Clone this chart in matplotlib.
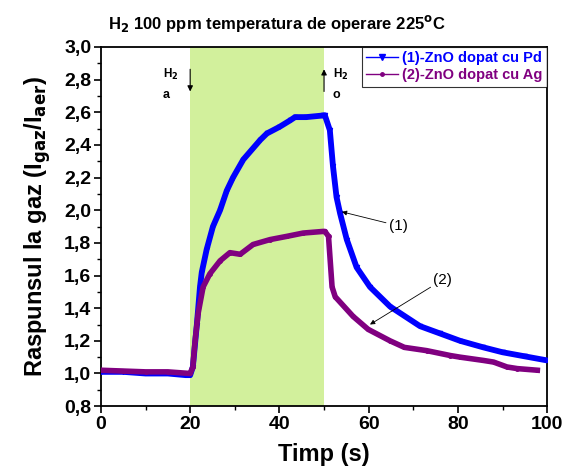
import matplotlib
matplotlib.use("Agg")
from matplotlib import pyplot as plt
from matplotlib.lines import Line2D
from matplotlib.ticker import MultipleLocator, FuncFormatter

plt.rcParams['font.family'] = ['Liberation Sans', 'DejaVu Sans']
plt.rcParams['font.weight'] = 'bold'

# (1) ZnO dopat cu Pd
t_pd = [0, 5, 10, 15, 19, 20, 20.6, 21.5, 22.2, 22.6, 23.7, 25.1, 26.7, 28.2, 29.6,
        31.9, 35.7, 37.2, 40, 42.4, 43.5, 46, 49.8, 50.2, 51.3, 52, 52.8, 53.6,
        55.1, 57.3, 60.3, 64.8, 71.5, 76, 80.5, 85.7, 90, 95, 100]
v_pd = [1.01, 1.01, 1.0, 1.0, 0.99, 0.99, 1.04, 1.30, 1.53, 1.62, 1.76, 1.90, 2.0,
        2.12, 2.20, 2.31, 2.43, 2.47, 2.51, 2.55, 2.57, 2.57, 2.58, 2.58, 2.49,
        2.27, 2.08, 1.98, 1.82, 1.65, 1.53, 1.41, 1.29, 1.245, 1.20, 1.16, 1.13,
        1.105, 1.08]

# (2) ZnO dopat cu Ag
t_ag = [0, 5, 10, 15, 20, 20.6, 21.1, 21.8, 22.9, 24.4, 26.7, 28.9, 31.2, 34.1,
        37.9, 41.7, 45.3, 49.8, 50.2, 51.0, 51.8, 52.5, 56.5, 59.9, 64.8, 68,
        73, 78.3, 80.5, 85.7, 88, 91, 93.3, 97.8]
v_ag = [1.02, 1.015, 1.01, 1.01, 1.0, 1.04, 1.20, 1.37, 1.53, 1.61, 1.69, 1.74,
        1.73, 1.79, 1.82, 1.84, 1.86, 1.87, 1.87, 1.84, 1.53, 1.47, 1.35, 1.27,
        1.20, 1.16, 1.14, 1.11, 1.10, 1.08, 1.07, 1.04, 1.03, 1.02]

blue = '#0000ff'
purple = '#800080'

fig = plt.figure(figsize=(5.67, 4.69), dpi=100)
ax = fig.add_axes([0.178, 0.134, 0.787, 0.766])

# zona de expunere la H2
ax.axvspan(20, 50, color='#d2f09c', lw=0, zorder=0)

ax.plot(t_pd, v_pd, color=blue, lw=4.2, marker='v', ms=3, zorder=3)
ax.plot(t_ag, v_ag, color=purple, lw=4, marker='o', ms=2.5, zorder=4)

ax.set_xlim(0, 100)
ax.set_ylim(0.8, 3.0)
ax.xaxis.set_major_locator(MultipleLocator(20))
ax.xaxis.set_minor_locator(MultipleLocator(10))
ax.yaxis.set_major_locator(MultipleLocator(0.2))
ax.yaxis.set_minor_locator(MultipleLocator(0.1))
ax.yaxis.set_major_formatter(FuncFormatter(lambda v, p: f"{v:.1f}".replace('.', ',')))
ax.tick_params(which='major', direction='out', length=5, width=1.2, labelsize=14, pad=2)
ax.tick_params(which='minor', direction='out', length=3, width=1)
for s in ax.spines.values():
    s.set_linewidth(1.3)

ax.set_xlabel('Timp (s)', fontsize=17, fontweight='bold', labelpad=7)
ax.set_ylabel('Raspunsul la gaz (I$_{\\mathbf{gaz}}$/I$_{\\mathbf{aer}}$)', fontsize=17,
              fontweight='bold', labelpad=8)
ax.set_title('H$_\\mathbf{2}$ 100 ppm temperatura de operare 225$^\\mathbf{o}$C',
             fontsize=12, fontweight='bold', pad=13, x=0.395)

# sageti H2 on/off
ax.annotate('', xy=(20, 2.71), xytext=(20, 2.88),
            arrowprops=dict(arrowstyle='-|>', color='black', lw=0.8, mutation_scale=8))
ax.annotate('', xy=(50, 2.88), xytext=(50, 2.71),
            arrowprops=dict(arrowstyle='-|>', color='black', lw=0.8, mutation_scale=8))
ax.text(13.8, 2.81, 'H$_\\mathbf{2}$', fontsize=8.5, fontweight='bold')
ax.text(13.8, 2.69, 'a', fontsize=9, fontweight='bold')
ax.text(52, 2.81, 'H$_\\mathbf{2}$', fontsize=8.5, fontweight='bold')
ax.text(52, 2.69, 'o', fontsize=9, fontweight='bold')

ax.annotate('(1)', xy=(54, 1.99), xytext=(64.5, 1.88), fontsize=11, fontweight='normal',
            color='black', arrowprops=dict(arrowstyle='-|>', color='black', lw=0.6,
                                           mutation_scale=7, shrinkA=0, shrinkB=0))
ax.annotate('(2)', xy=(60.3, 1.30), xytext=(74.5, 1.55), fontsize=11, fontweight='normal',
            color='black', arrowprops=dict(arrowstyle='-|>', color='black', lw=0.6,
                                           mutation_scale=7, shrinkA=0, shrinkB=0))

handles = [Line2D([], [], color=blue, lw=1, marker='v', ms=4),
           Line2D([], [], color=purple, lw=1, marker='o', ms=2.5)]
leg = ax.legend(handles, ['(1)-ZnO dopat cu Pd', '(2)-ZnO dopat cu Ag'],
                loc='upper right', bbox_to_anchor=(1.0, 1.0), fontsize=10.5,
                frameon=True, fancybox=False, borderaxespad=0, handlelength=2.2,
                handletextpad=0.3, borderpad=0.3, labelspacing=0.2)
leg.get_frame().set_edgecolor('black')
leg.get_frame().set_linewidth(0.8)
for txt, c in zip(leg.get_texts(), [blue, purple]):
    txt.set_color(c)
    txt.set_fontweight('bold')

fig.savefig('out.png', dpi=100)
